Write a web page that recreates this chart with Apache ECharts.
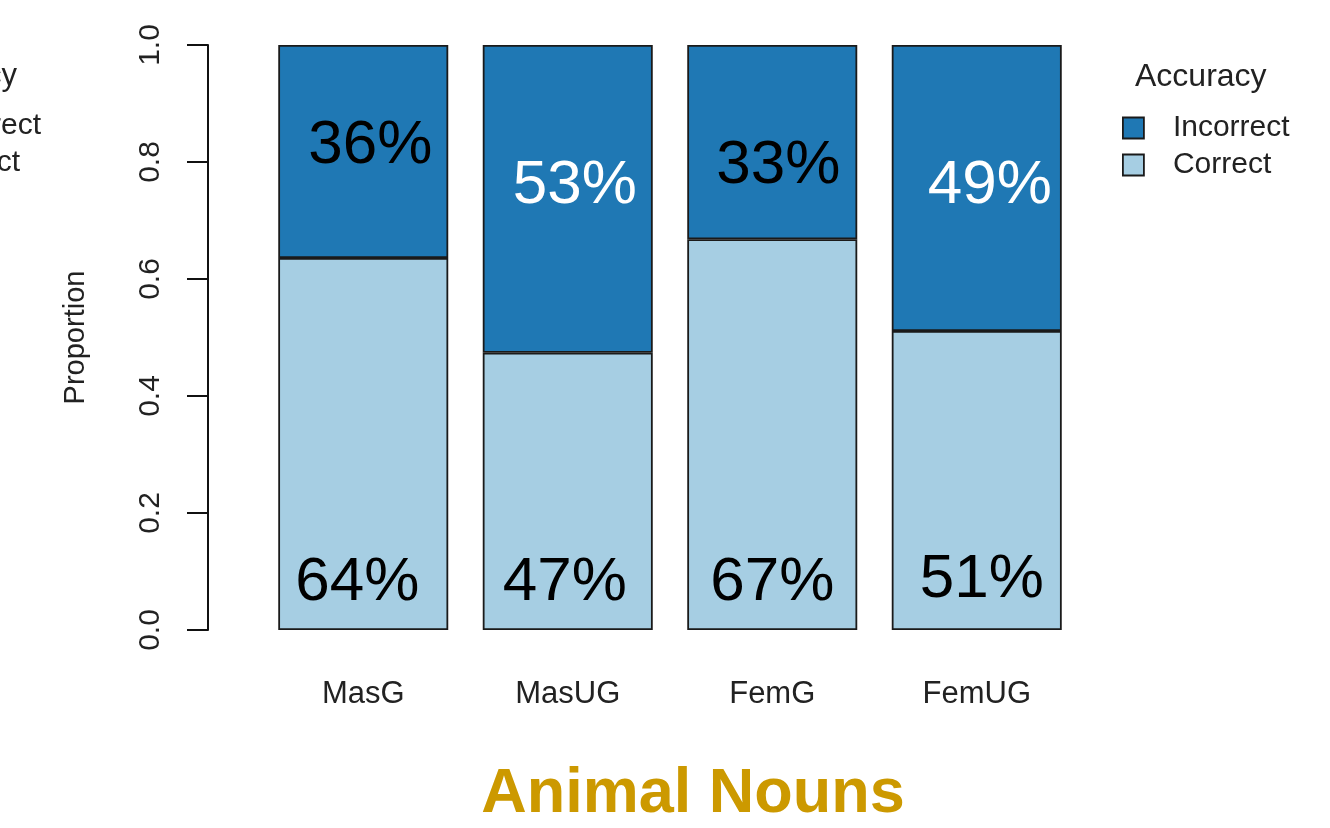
<!DOCTYPE html>
<html>
  <head>
    <meta charset="utf-8">
    <title></title>
    <style>
      html, body{ margin:0; padding:0; background:#fff; }
      #wrap{ width:1330px; height:828px; }
    </style>
    <script src="https://cdn.jsdelivr.net/npm/echarts@6/dist/echarts.min.js" charset="utf-8"></script>
  </head>
  <body>
    <div id="wrap"></div>
    <script>
      // groups on the x axis
      var categories = ['MasG', 'MasUG', 'FemG', 'FemUG'];
      // proportions
      var correct = [0.636, 0.474, 0.668, 0.511];
      var incorrect = [0.364, 0.526, 0.332, 0.489];
      // printed percentages
      var correctText = ['64%', '47%', '67%', '51%'];
      var incorrectText = ['36%', '53%', '33%', '49%'];
      var yTicks = [0, 0.2, 0.4, 0.6, 0.8, 1.0];

      var font = '"Liberation Sans", Arial, sans-serif';
      var dark = '#1F78B4';
      var light = '#A6CEE3';

      // label nudges (the R text() calls were placed by hand)
      var correctShift = [[-6, 0], [-3, 0], [0, 0], [5, -3]];
      var incorrectShift = [[7, 70], [7, 110], [6, 90], [13, 110]];
      var incorrectColor = ['#000', '#fff', '#000', '#fff'];

      var chart = echarts.init(document.getElementById('wrap'));

      var sCorrect = {
        name: 'Correct',
        type: 'bar',
        stack: 'a',
        barWidth: 170,
        itemStyle: {color: light, borderColor: '#1a1a1a', borderWidth: 1.8},
        data: correct.map(function (v, i) {
          return {
            value: v,
            label: {
              show: true, position: 'insideBottom', distance: 16,
              offset: correctShift[i], color: '#000',
              fontSize: 62, fontFamily: font,
              formatter: correctText[i]
            }
          };
        })
      };

      var sIncorrect = {
        name: 'Incorrect',
        type: 'bar',
        stack: 'a',
        barWidth: 170,
        itemStyle: {color: dark, borderColor: '#1a1a1a', borderWidth: 1.8},
        data: incorrect.map(function (v, i) {
          return {
            value: v,
            label: {
              show: true, position: 'insideTop', distance: 0,
              offset: incorrectShift[i], color: incorrectColor[i],
              fontSize: 62, fontFamily: font,
              formatter: incorrectText[i]
            }
          };
        })
      };

      var option = {
        animation: false,
        title: {
          text: 'Animal Nouns',
          left: 688,
          textAlign: 'center',
          top: 758,
          textStyle: {color: '#CC9900', fontSize: 63, fontWeight: 'bold', fontFamily: font}
        },
        legend: {
          data: ['Incorrect', 'Correct'],
          orient: 'vertical',
          left: 1117,
          top: 108,
          itemWidth: 21,
          itemHeight: 21,
          itemGap: 7,
          icon: 'rect',
          itemStyle: {borderColor: '#1a1a1a', borderWidth: 1.8},
          textStyle: {fontSize: 30, color: '#222', fontFamily: font, padding: [0, 0, 0, 24]}
        },
        graphic: [
          {type: 'text', left: 1135, top: 61, style: {text: 'Accuracy', font: '32px ' + font, fill: '#222'}},
          // the clipped legend of a neighbouring panel
          {type: 'text', x: 17, y: 76, style: {text: 'Accuracy', font: '31px ' + font, fill: '#222', align: 'right', verticalAlign: 'middle'}},
          {type: 'text', x: 41, y: 126, style: {text: 'Incorrect', font: '30px ' + font, fill: '#222', align: 'right', verticalAlign: 'middle'}},
          {type: 'text', x: 20, y: 163, style: {text: 'Correct', font: '30px ' + font, fill: '#222', align: 'right', verticalAlign: 'middle'}}
        ],
        grid: {left: 261, right: 251, top: 45, bottom: 198},
        xAxis: {
          type: 'category',
          data: categories,
          axisLine: {show: false},
          axisTick: {show: false},
          axisLabel: {margin: 49, fontSize: 31, color: '#222', fontFamily: font}
        },
        yAxis: {
          type: 'value',
          min: 0,
          max: 1,
          interval: 0.2,
          offset: 53,
          name: 'Proportion',
          nameLocation: 'middle',
          nameRotate: 90,
          nameGap: 118,
          nameTextStyle: {fontSize: 29, color: '#222', fontFamily: font},
          splitLine: {show: false},
          axisLine: {show: true, lineStyle: {color: '#111', width: 2}},
          axisTick: {show: true, length: 21, lineStyle: {color: '#111', width: 2}},
          axisLabel: {
            rotate: 90, margin: 42, fontSize: 30, color: '#222', fontFamily: font,
            formatter: function (v) { return v.toFixed(1); }
          }
        },
        series: [sCorrect, sIncorrect]
      };

      chart.setOption(option);
    </script>
  </body>
</html>
